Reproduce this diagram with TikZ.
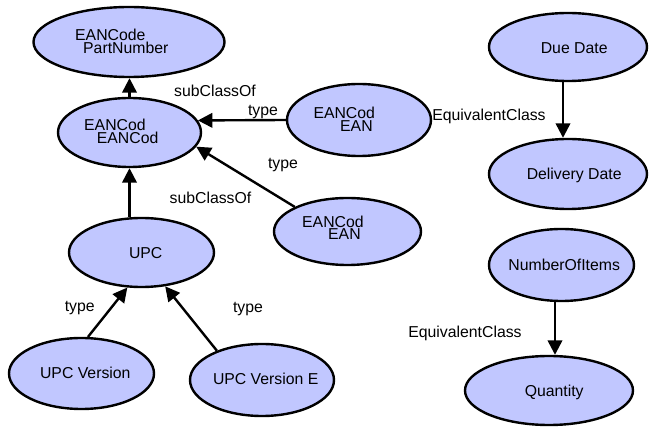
\documentclass[tikz,border=0pt]{standalone}
\usepackage{fontspec}
\setmainfont{Liberation Sans}
\usetikzlibrary{arrows.meta,shapes.geometric}

\definecolor{classfill}{RGB}{193,199,255}

\tikzset{
  cls/.style={ellipse, draw=black, line width=2.4pt, fill=classfill, inner sep=0pt},
  word/.style={inner sep=0pt, font=\fontsize{15.8}{16}\selectfont},
  wordl/.style={word, anchor=base west},
  wordc/.style={word, anchor=base},
  rel/.style={draw=black, line width=2.4pt, -{Triangle[length=14.5pt,width=14.5pt]}}
}

\begin{document}
\begin{tikzpicture}[x=1pt, y=-1pt]
\useasboundingbox (0,0) rectangle (649,427);

% class ellipses
\node[cls, minimum width=191pt, minimum height=70pt] (e1)    at (129,42)      {};
\node[cls, minimum width=143pt, minimum height=69pt] (e2)    at (129.5,132.5) {};
\node[cls, minimum width=144pt, minimum height=72pt] (e3)    at (359,120)     {};
\node[cls, minimum width=147pt, minimum height=67pt] (e4)    at (347.5,231.5) {};
\node[cls, minimum width=145pt, minimum height=69pt] (upc)   at (141.5,252.5) {};
\node[cls, minimum width=145pt, minimum height=71pt] (uv)    at (81.5,373.5)  {};
\node[cls, minimum width=144pt, minimum height=72pt] (uve)   at (262,380)     {};
\node[cls, minimum width=158pt, minimum height=68pt] (due)   at (568,47)      {};
\node[cls, minimum width=158pt, minimum height=70pt] (deliv) at (568,174)     {};
\node[cls, minimum width=145pt, minimum height=72pt] (noi)   at (561.5,265)   {};
\node[cls, minimum width=168pt, minimum height=69pt] (qty)   at (549,390.5)   {};

% class names (two-line names are set as two staggered lines)
\node[wordl] (e1a) at (75,40.6)    {EANCode};
\node[wordl] (e1b) at (83,53.6)    {PartNumber};
\node[wordl] (e2a) at (84,130.4)   {EANCod};
\node[wordl] (e2b) at (96.7,143.3) {EANCod};
\node[wordl] (e3a) at (313.3,118.7){EANCod};
\node[wordl] (e3b) at (340,131.6)  {EAN};
\node[wordl] (e4a) at (302,227.1)  {EANCod};
\node[wordl] (e4b) at (328,239.9)  {EAN};
\node[wordc] (upct)   at (145.7,258.3) {UPC};
\node[wordc] (uvt)    at (85.3,378.3)  {UPC Version};
\node[wordc] (uvet)   at (265.7,384.3) {UPC Version E};
\node[wordc] (duet)   at (574.2,53.3)  {Due Date};
\node[wordc] (delivt) at (574.2,179.3) {Delivery Date};
\node[wordc] (noit)   at (564.2,270.7) {NumberOfItems};
\node[wordc] (qtyt)   at (554.2,396.7) {Quantity};

% relations
\draw[rel] (e2.north) -- (e2.north |- e1.south);
\draw[rel] (e3.west) -- (e2.10);
\draw[rel] (e4.155) -- (e2.-12);
\draw[rel] (e2.south |- upc.north) -- (e2.south);
\draw[rel] (uv.80) -- (upc.-112);
\draw[rel] (uve.147) -- (upc.-55);
\draw[rel] ([xshift=-5pt]due.south) -- ([xshift=-5pt]deliv.north);
\draw[rel] ([xshift=-6.5pt]noi.south) -- ([xshift=6pt]qty.north);

% relation labels
\node[wordc] (l1) at (215,97)     {subClassOf};
\node[wordc] (l2) at (263,115.5)  {type};
\node[wordc] (l3) at (283,168.3)  {type};
\node[wordc] (l4) at (210.5,204)  {subClassOf};
\node[wordc] (l5) at (489,121)    {EquivalentClass};
\node[wordc] (l6) at (79.7,311.7) {type};
\node[wordc] (l7) at (248,312.7)  {type};
\node[wordc] (l8) at (465,337.3)  {EquivalentClass};
\end{tikzpicture}
\end{document}
